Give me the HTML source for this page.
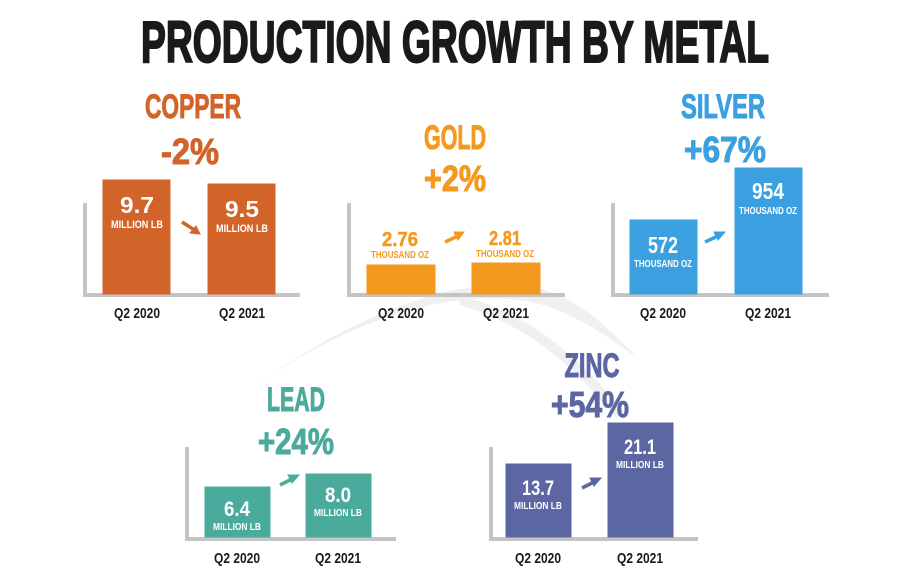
<!DOCTYPE html>
<html><head><meta charset="utf-8"><style>
html,body{margin:0;padding:0;background:#fff;}
svg{display:block;}
text{font-family:"Liberation Sans",sans-serif;font-weight:bold;}
</style></head><body>
<svg width="900" height="573" viewBox="0 0 900 573" xmlns="http://www.w3.org/2000/svg">
<path d="M235,400 C330,330 430,290 520,300 C560,305 600,330 640,360 C600,320 570,290 520,285 C430,280 330,330 235,400 Z" fill="#f0f0f0"/>
<path d="M460,300 C530,320 575,360 620,415" stroke="#f0f0f0" stroke-width="10" fill="none"/>

<text x="455" y="62" font-size="58" text-anchor="middle" fill="#1a1a1a" stroke="#1a1a1a" stroke-width="2" textLength="628" lengthAdjust="spacingAndGlyphs">PRODUCTION GROWTH BY METAL</text>

<g stroke="#c4c4c4" stroke-width="4" fill="none">
<path d="M85,203 V295 H300"/>
<path d="M349,203 V295 H565"/>
<path d="M613,203 V295 H829"/>
<path d="M187,447 V539 H396"/>
<path d="M491,447 V539 H698"/>
</g>

<g fill="#d2642a" stroke="#d2642a" stroke-width="1">
<text x="193" y="118" font-size="34" text-anchor="middle" textLength="96" lengthAdjust="spacingAndGlyphs">COPPER</text>
<text x="190" y="164" font-size="36" text-anchor="middle" textLength="58" lengthAdjust="spacingAndGlyphs">-2%</text>
<rect x="103" y="180" width="67" height="114"/>
<rect x="208" y="184" width="67" height="110"/>
<path d="M182,222 L196,231" stroke-width="3.5"/><path d="M200,234 L190,233 L196,226 Z"/>
</g>
<g fill="#fff" text-anchor="middle">
<text x="137" y="213" font-size="23" textLength="34" lengthAdjust="spacingAndGlyphs">9.7</text>
<text x="137" y="228" font-size="11" textLength="52" lengthAdjust="spacingAndGlyphs">MILLION LB</text>
<text x="242" y="217" font-size="23" textLength="34" lengthAdjust="spacingAndGlyphs">9.5</text>
<text x="242" y="232" font-size="11" textLength="52" lengthAdjust="spacingAndGlyphs">MILLION LB</text>
</g>

<g fill="#f39a1e" stroke="#f39a1e" stroke-width="1">
<text x="455" y="149" font-size="34" text-anchor="middle" textLength="62" lengthAdjust="spacingAndGlyphs">GOLD</text>
<text x="455" y="191" font-size="36" text-anchor="middle" textLength="62" lengthAdjust="spacingAndGlyphs">+2%</text>
<rect x="367" y="265" width="68" height="29"/>
<rect x="472" y="263" width="68" height="31"/>
<text x="400" y="246" font-size="20" text-anchor="middle" stroke-width="0.5" textLength="36" lengthAdjust="spacingAndGlyphs">2.76</text>
<text x="400" y="258" font-size="10" text-anchor="middle" stroke-width="0" textLength="58" lengthAdjust="spacingAndGlyphs">THOUSAND OZ</text>
<text x="505" y="245" font-size="20" text-anchor="middle" stroke-width="0.5" textLength="32" lengthAdjust="spacingAndGlyphs">2.81</text>
<text x="505" y="257" font-size="10" text-anchor="middle" stroke-width="0" textLength="58" lengthAdjust="spacingAndGlyphs">THOUSAND OZ</text>
<path d="M445,242 L458,236" stroke-width="3.5"/><path d="M464,232 L454,232 L458,240 Z"/>
</g>

<g fill="#3aa0e0" stroke="#3aa0e0" stroke-width="1">
<text x="723" y="118" font-size="34" text-anchor="middle" textLength="84" lengthAdjust="spacingAndGlyphs">SILVER</text>
<text x="725" y="162" font-size="36" text-anchor="middle" textLength="82" lengthAdjust="spacingAndGlyphs">+67%</text>
<rect x="630" y="220" width="67" height="74"/>
<rect x="735" y="168" width="67" height="126"/>
<path d="M705,242 L718,236" stroke-width="3.5"/><path d="M725,232 L714,232 L718,240 Z"/>
</g>
<g fill="#fff" text-anchor="middle">
<text x="663" y="253" font-size="23" textLength="30" lengthAdjust="spacingAndGlyphs">572</text>
<text x="663" y="267" font-size="10" textLength="58" lengthAdjust="spacingAndGlyphs">THOUSAND OZ</text>
<text x="768" y="199" font-size="23" textLength="32" lengthAdjust="spacingAndGlyphs">954</text>
<text x="768" y="214" font-size="10" textLength="58" lengthAdjust="spacingAndGlyphs">THOUSAND OZ</text>
</g>

<g fill="#4aab9c" stroke="#4aab9c" stroke-width="1">
<text x="296" y="411" font-size="34" text-anchor="middle" textLength="58" lengthAdjust="spacingAndGlyphs">LEAD</text>
<text x="296" y="454" font-size="36" text-anchor="middle" textLength="76" lengthAdjust="spacingAndGlyphs">+24%</text>
<rect x="205" y="487" width="65" height="50"/>
<rect x="306" y="474" width="65" height="63"/>
<path d="M280,485 L292,479" stroke-width="3.5"/><path d="M299,475 L288,475 L292,483 Z"/>
</g>
<g fill="#fff" text-anchor="middle">
<text x="237" y="516" font-size="21" textLength="26" lengthAdjust="spacingAndGlyphs">6.4</text>
<text x="237" y="530" font-size="10" textLength="48" lengthAdjust="spacingAndGlyphs">MILLION LB</text>
<text x="338" y="502" font-size="21" textLength="26" lengthAdjust="spacingAndGlyphs">8.0</text>
<text x="338" y="516" font-size="10" textLength="48" lengthAdjust="spacingAndGlyphs">MILLION LB</text>
</g>

<g fill="#5b66a3" stroke="#5b66a3" stroke-width="1">
<text x="592" y="377" font-size="34" text-anchor="middle" textLength="55" lengthAdjust="spacingAndGlyphs">ZINC</text>
<text x="590" y="417" font-size="36" text-anchor="middle" textLength="78" lengthAdjust="spacingAndGlyphs">+54%</text>
<rect x="506" y="464" width="65" height="73"/>
<rect x="608" y="423" width="65" height="114"/>
<path d="M582,488 L594,482" stroke-width="3.5"/><path d="M601,478 L590,478 L594,486 Z"/>
</g>
<g fill="#fff" text-anchor="middle">
<text x="538" y="495" font-size="21" textLength="32" lengthAdjust="spacingAndGlyphs">13.7</text>
<text x="538" y="509" font-size="10" textLength="48" lengthAdjust="spacingAndGlyphs">MILLION LB</text>
<text x="640" y="454" font-size="21" textLength="32" lengthAdjust="spacingAndGlyphs">21.1</text>
<text x="640" y="468" font-size="10" textLength="48" lengthAdjust="spacingAndGlyphs">MILLION LB</text>
</g>

<g fill="#1a1a1a" font-size="15" text-anchor="middle">
<text x="137" y="318" textLength="46" lengthAdjust="spacingAndGlyphs">Q2 2020</text>
<text x="242" y="318" textLength="46" lengthAdjust="spacingAndGlyphs">Q2 2021</text>
<text x="401" y="318" textLength="46" lengthAdjust="spacingAndGlyphs">Q2 2020</text>
<text x="506" y="318" textLength="46" lengthAdjust="spacingAndGlyphs">Q2 2021</text>
<text x="663" y="318" textLength="46" lengthAdjust="spacingAndGlyphs">Q2 2020</text>
<text x="768" y="318" textLength="46" lengthAdjust="spacingAndGlyphs">Q2 2021</text>
<text x="237" y="563" textLength="46" lengthAdjust="spacingAndGlyphs">Q2 2020</text>
<text x="338" y="563" textLength="46" lengthAdjust="spacingAndGlyphs">Q2 2021</text>
<text x="538" y="563" textLength="46" lengthAdjust="spacingAndGlyphs">Q2 2020</text>
<text x="640" y="563" textLength="46" lengthAdjust="spacingAndGlyphs">Q2 2021</text>
</g>
</svg>
</body></html>
